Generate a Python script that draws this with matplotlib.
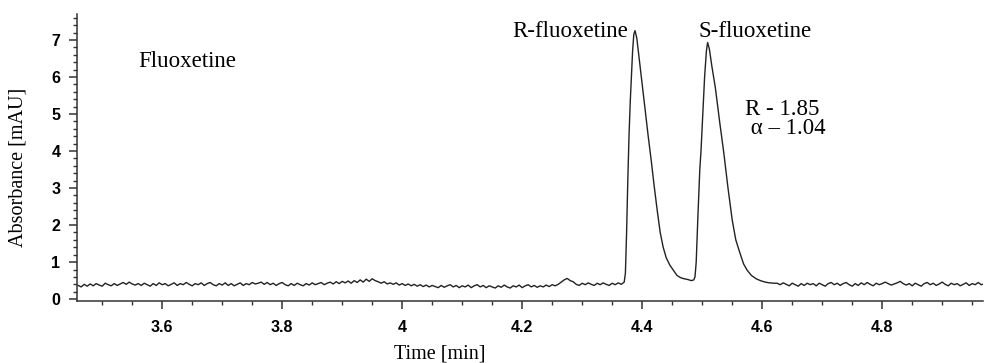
"""Chiral separation chromatogram of fluoxetine enantiomers."""

import matplotlib

matplotlib.use("Agg")
import matplotlib.pyplot as plt
import numpy as np
from matplotlib.ticker import MultipleLocator, FuncFormatter

# baseline before the peaks, sampled every 0.005 min from 3.460 to 4.370
BASE_START, BASE_END = 3.460, 4.370
base_values = [
    0.37, 0.33, 0.40, 0.35, 0.41, 0.36, 0.42, 0.38, 0.35, 0.43, 0.39, 0.36, 0.42, 0.37, 0.41, 0.45, 0.40, 0.46, 0.41, 0.38,
    0.42, 0.37, 0.43, 0.39, 0.35, 0.42, 0.37, 0.44, 0.39, 0.42, 0.36, 0.40, 0.44, 0.37, 0.42, 0.39, 0.45, 0.40, 0.36, 0.42,
    0.39, 0.44, 0.37, 0.42, 0.45, 0.39, 0.36, 0.42, 0.38, 0.44, 0.37, 0.42, 0.36, 0.40, 0.44, 0.37, 0.42, 0.39, 0.45, 0.41,
    0.43, 0.46, 0.40, 0.45, 0.39, 0.43, 0.37, 0.42, 0.45, 0.39, 0.36, 0.42, 0.37, 0.43, 0.39, 0.36, 0.42, 0.38, 0.44, 0.39,
    0.42, 0.45, 0.39, 0.43, 0.46, 0.41, 0.47, 0.42, 0.48, 0.44, 0.49, 0.43, 0.50, 0.45, 0.52, 0.46, 0.54, 0.48, 0.55, 0.50,
    0.47, 0.43, 0.47, 0.41, 0.44, 0.40, 0.44, 0.38, 0.42, 0.37, 0.41, 0.36, 0.40, 0.35, 0.39, 0.34, 0.38, 0.33, 0.37, 0.34,
    0.31, 0.37, 0.32, 0.36, 0.39, 0.33, 0.37, 0.31, 0.36, 0.33, 0.38, 0.31, 0.36, 0.39, 0.33, 0.37, 0.31, 0.36, 0.33, 0.30,
    0.36, 0.32, 0.38, 0.33, 0.30, 0.36, 0.33, 0.38, 0.31, 0.36, 0.39, 0.33, 0.37, 0.32, 0.36, 0.33, 0.38, 0.34, 0.39, 0.36,
    0.40, 0.46, 0.52, 0.56, 0.50, 0.47, 0.40, 0.37, 0.43, 0.39, 0.44, 0.40, 0.37, 0.43, 0.39, 0.44, 0.40, 0.37, 0.43, 0.39,
    0.44, 0.40, 0.46,
]

# R- and S-fluoxetine peaks
peak_times = [
    4.372, 4.374, 4.376, 4.378, 4.380, 4.382, 4.384, 4.386, 4.388, 4.391,
    4.395, 4.400, 4.405, 4.410, 4.415, 4.420, 4.425, 4.430, 4.435, 4.440,
    4.446, 4.452, 4.458, 4.464, 4.470, 4.476, 4.482, 4.486, 4.488, 4.490,
    4.493, 4.496, 4.498, 4.501, 4.504, 4.507, 4.509, 4.512, 4.516, 4.522,
    4.529, 4.536, 4.543, 4.550, 4.556, 4.563, 4.569, 4.575, 4.582, 4.590,
    4.597, 4.605, 4.612, 4.620,
]
peak_values = [
    0.70, 1.80, 3.20, 4.40, 5.30, 6.00, 6.70, 7.15, 7.25, 7.05,
    6.50, 5.80, 5.10, 4.40, 3.75, 3.05, 2.40, 1.80, 1.40, 1.12,
    0.92, 0.78, 0.64, 0.58, 0.55, 0.53, 0.50, 0.52, 0.60, 1.00,
    2.30, 3.50, 4.00, 5.00, 6.00, 6.70, 6.93, 6.75, 6.30, 5.70,
    4.80, 3.95, 3.00, 2.14, 1.60, 1.24, 0.95, 0.78, 0.64, 0.55,
    0.50, 0.46, 0.44, 0.43,
]

# baseline after the peaks, sampled every 0.005 min from 4.625 to 4.970
TAIL_START, TAIL_END = 4.625, 4.970
tail_values = [
    0.43, 0.39, 0.44, 0.40, 0.36, 0.43, 0.39, 0.35, 0.42, 0.37, 0.43, 0.39, 0.42, 0.36, 0.43, 0.39, 0.35, 0.42, 0.45, 0.39,
    0.43, 0.37, 0.42, 0.45, 0.39, 0.35, 0.42, 0.37, 0.44, 0.39, 0.45, 0.40, 0.36, 0.43, 0.39, 0.42, 0.46, 0.42, 0.38, 0.41,
    0.44, 0.48, 0.42, 0.38, 0.42, 0.36, 0.43, 0.39, 0.35, 0.42, 0.45, 0.39, 0.43, 0.37, 0.41, 0.46, 0.40, 0.36, 0.43, 0.39,
    0.42, 0.36, 0.40, 0.44, 0.37, 0.42, 0.39, 0.45, 0.39, 0.41,
]

time = np.concatenate([
    np.linspace(BASE_START, BASE_END, len(base_values)),
    peak_times,
    np.linspace(TAIL_START, TAIL_END, len(tail_values)),
])
absorbance = np.concatenate([base_values, peak_values, tail_values])

SERIF = "Liberation Serif"
SANS = "Liberation Sans"

fig = plt.figure(figsize=(9.84, 3.63), dpi=100)
ax = fig.add_axes([77 / 984, 1 - 301 / 363, 906 / 984, 287 / 363])

ax.plot(time, absorbance, color="#222222", linewidth=1.0)

ax.set_xlim(3.458, 4.968)
ax.set_ylim(-0.05, 7.7)

for side in ("top", "right"):
    ax.spines[side].set_visible(False)
for side in ("left", "bottom"):
    ax.spines[side].set_linewidth(1.1)
    ax.spines[side].set_color("#333333")

ax.xaxis.set_major_locator(MultipleLocator(0.2))
ax.xaxis.set_minor_locator(MultipleLocator(0.05))
ax.yaxis.set_major_locator(MultipleLocator(1))
ax.yaxis.set_minor_locator(MultipleLocator(0.2))
ax.xaxis.set_major_formatter(FuncFormatter(lambda v, _: f"{v:g}"))

ax.tick_params(axis="both", which="major", direction="out", length=6,
               width=1.1, color="#333333")
ax.tick_params(axis="both", which="minor", direction="out", length=3,
               width=1.0, color="#333333")
ax.tick_params(axis="x", which="major", pad=8)
ax.tick_params(axis="y", which="major", pad=6)

for label in ax.get_xticklabels() + ax.get_yticklabels():
    label.set_fontfamily(SANS)
    label.set_fontweight("bold")
    label.set_fontsize(11.5)

ax.set_xlabel("Time [min]", fontfamily=SERIF, fontsize=14.5)
ax.xaxis.set_label_coords(0.40, -0.15)
fig.text(18 / 984, 1 - 167 / 363, "Absorbance [mAU]", rotation=90,
         ha="center", va="center", fontfamily=SERIF, fontsize=14.5)

text_style = {"fontfamily": SERIF, "fontsize": 16.5, "va": "center"}
ax.text(3.560, 6.42, "Fluoxetine", ha="left", **text_style)
ax.text(4.376, 7.22, "R-fluoxetine", ha="right", **text_style)
ax.text(4.493, 7.22, "S-fluoxetine", ha="left", **text_style)
ax.text(4.572, 4.86, "R - 1.85\n α – 1.04", ha="left", linespacing=0.85,
        **text_style)

plt.savefig("out.png", dpi=100)
plt.close()
